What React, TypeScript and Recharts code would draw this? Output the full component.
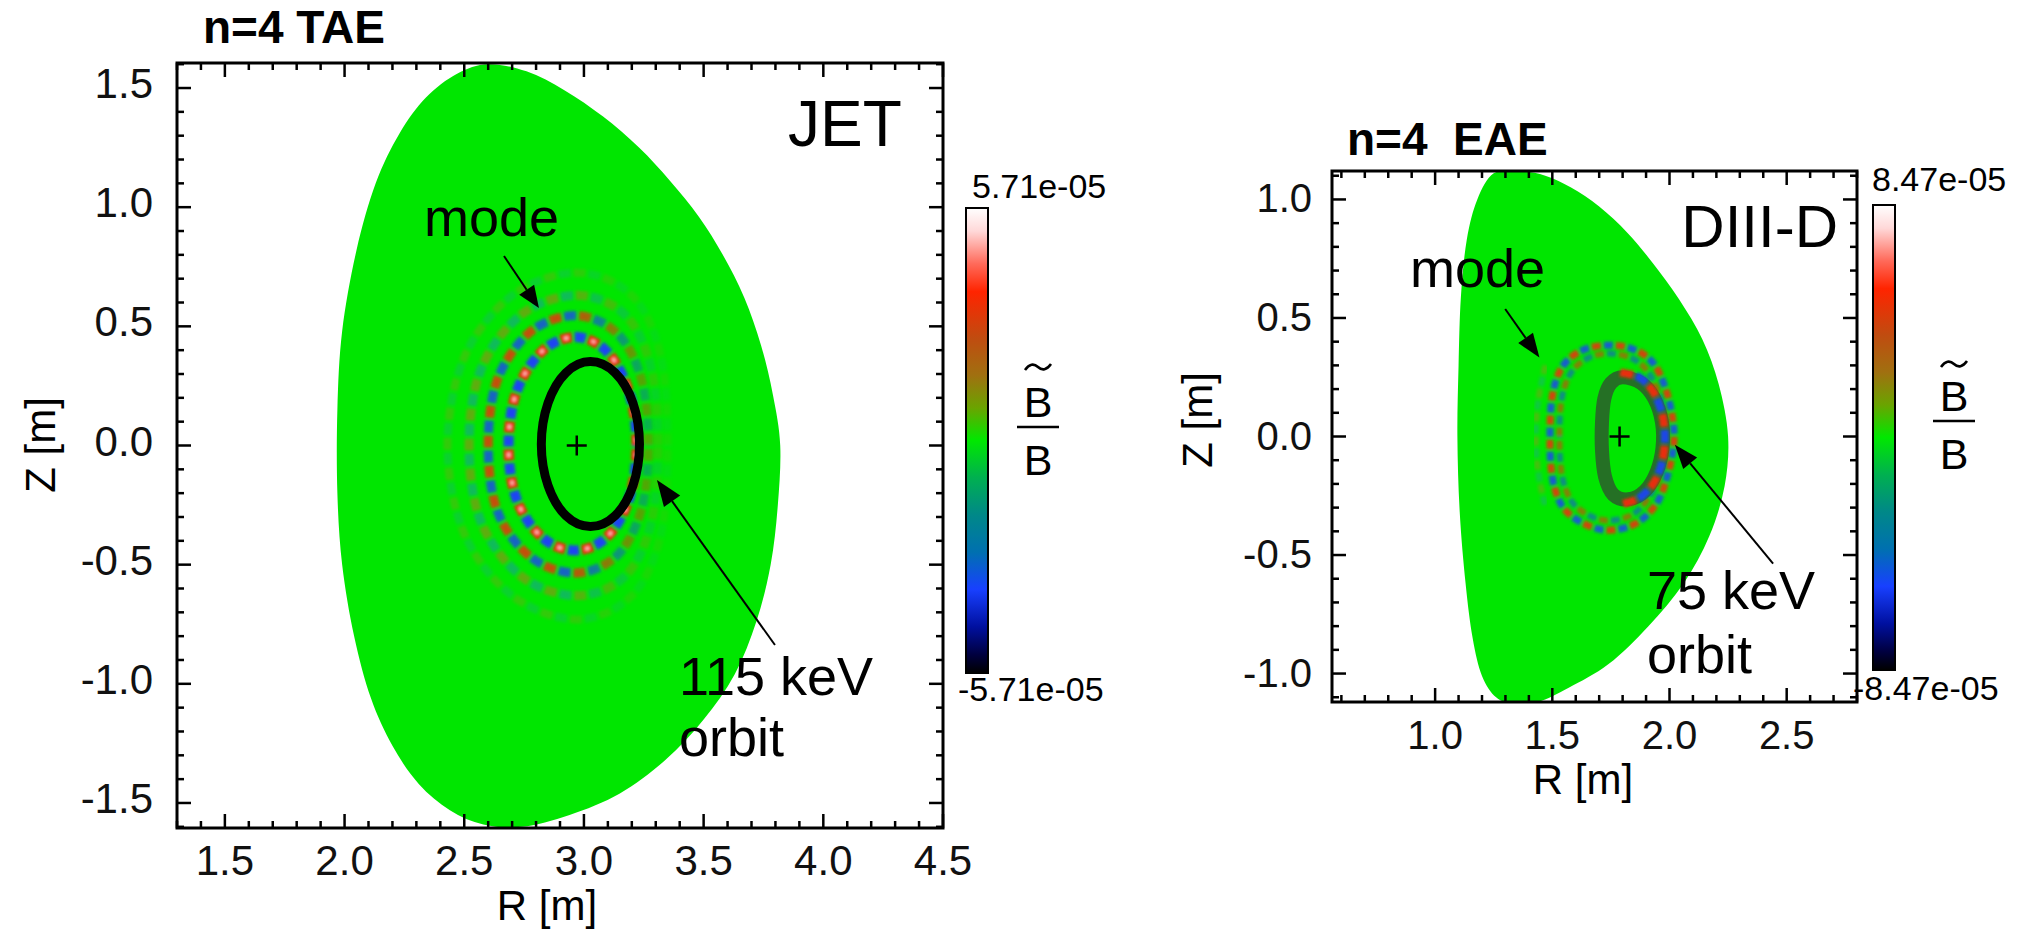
import { Scatter, ScatterChart, XAxis, YAxis } from "recharts";

const FONT = '"Liberation Sans", Arial, Helvetica, sans-serif';

type P = [number, number];
type XY = { x: number; y: number };

// ---------- JET, n=4 TAE (left panel) ----------
const JET_R_LABELS = [1.5, 2.0, 2.5, 3.0, 3.5, 4.0, 4.5];
const JET_Z_LABELS = [-1.5, -1.0, -0.5, 0.0, 0.5, 1.0, 1.5];

const JET_LCFS: P[] = [
  [2.6, 1.6], [2.76, 1.57], [2.92, 1.49], [3.08, 1.38], [3.23, 1.25], [3.36, 1.11],
  [3.48, 0.96], [3.58, 0.8], [3.67, 0.62], [3.74, 0.42], [3.79, 0.21], [3.82, 0.0],
  [3.81, -0.25], [3.78, -0.5], [3.72, -0.74], [3.63, -0.96], [3.5, -1.15], [3.34, -1.32],
  [3.15, -1.46], [2.94, -1.55], [2.74, -1.6], [2.58, -1.59], [2.44, -1.53], [2.31, -1.42],
  [2.2, -1.26], [2.11, -1.06], [2.04, -0.8], [1.99, -0.5], [1.97, -0.2], [1.97, 0.15],
  [1.99, 0.48], [2.05, 0.82], [2.13, 1.1], [2.23, 1.31], [2.34, 1.46], [2.47, 1.56],
];

const JET_ORBIT: P[] = [
  [3.232, 0.005], [3.205, 0.178], [3.13, 0.305], [3.027, 0.352], [2.925, 0.305], [2.85, 0.178],
  [2.822, 0.005], [2.85, -0.168], [2.925, -0.295], [3.027, -0.34], [3.13, -0.295], [3.205, -0.168],
];

const JET_RING_1: P[] = [
  [3.22, 0], [3.19, 0.22], [3.1, 0.39], [2.97, 0.455], [2.83, 0.4], [2.72, 0.23],
  [2.685, 0], [2.72, -0.23], [2.83, -0.39], [2.97, -0.44], [3.1, -0.38], [3.19, -0.22],
];
const JET_RING_2: P[] = [
  [3.27, 0], [3.24, 0.28], [3.14, 0.47], [2.97, 0.545], [2.78, 0.48], [2.64, 0.28],
  [2.6, 0], [2.64, -0.28], [2.78, -0.47], [2.97, -0.535], [3.14, -0.46], [3.24, -0.27],
];
const JET_RING_3: P[] = [
  [3.31, 0], [3.28, 0.33], [3.17, 0.55], [2.97, 0.63], [2.74, 0.55], [2.57, 0.32],
  [2.52, 0], [2.57, -0.32], [2.74, -0.55], [2.97, -0.63], [3.17, -0.55], [3.28, -0.33],
];
const JET_RING_4: P[] = [
  [3.35, 0], [3.32, 0.38], [3.2, 0.63], [2.97, 0.725], [2.7, 0.63], [2.5, 0.37],
  [2.43, 0], [2.5, -0.37], [2.7, -0.63], [2.97, -0.73], [3.2, -0.63], [3.32, -0.38],
];

const JET_AXIS: P[] = [[2.97, 0.0]];
const JET_MODE_ARROW: P[] = [[2.666, 0.795], [2.812, 0.577]];
const JET_ORBIT_ARROW: P[] = [[3.798, -0.837], [3.305, -0.145]];

// ---------- DIII-D, n=4 EAE (right panel) ----------
const D3D_R_LABELS = [1.0, 1.5, 2.0, 2.5];
const D3D_Z_LABELS = [-1.0, -0.5, 0.0, 0.5, 1.0];

const D3D_LCFS: P[] = [
  [1.25, 1.11], [1.36, 1.12], [1.47, 1.1], [1.58, 1.05], [1.7, 0.97], [1.82, 0.86],
  [1.93, 0.73], [2.04, 0.58], [2.14, 0.41], [2.21, 0.22], [2.25, 0.0], [2.235, -0.21],
  [2.17, -0.42], [2.06, -0.62], [1.91, -0.8], [1.74, -0.96], [1.57, -1.06], [1.44, -1.12],
  [1.34, -1.13], [1.26, -1.1], [1.2, -1.01], [1.16, -0.85], [1.13, -0.62], [1.105, -0.32],
  [1.095, 0.0], [1.1, 0.3], [1.11, 0.59], [1.135, 0.83], [1.18, 1.0],
];

const D3D_ORBIT: P[] = [
  [1.8, 0.25], [1.88, 0.225], [1.935, 0.16], [1.968, 0.06], [1.97, -0.05], [1.945, -0.15],
  [1.895, -0.23], [1.825, -0.265], [1.76, -0.245], [1.725, -0.17], [1.712, -0.06], [1.712, 0.06],
  [1.722, 0.16], [1.75, 0.225],
];

const D3D_RING_A: P[] = [
  [1.49, 0], [1.5, 0.17], [1.54, 0.29], [1.62, 0.36], [1.73, 0.385], [1.84, 0.37],
  [1.93, 0.31], [1.99, 0.18], [2.02, 0], [1.99, -0.17], [1.94, -0.29], [1.85, -0.37],
  [1.73, -0.395], [1.62, -0.36], [1.54, -0.29], [1.5, -0.17],
];
const D3D_RING_A2: P[] = [
  [1.53, 0], [1.54, 0.16], [1.58, 0.27], [1.65, 0.33], [1.74, 0.35], [1.84, 0.33],
  [1.91, 0.27], [1.96, 0.16], [1.985, 0], [1.96, -0.15], [1.91, -0.26], [1.84, -0.33],
  [1.74, -0.355], [1.65, -0.33], [1.58, -0.27], [1.54, -0.16],
];
const D3D_RING_B: P[] = [
  [1.79, 0.27], [1.87, 0.25], [1.93, 0.19], [1.97, 0.09], [1.98, -0.02], [1.965, -0.12],
  [1.93, -0.2], [1.87, -0.26], [1.8, -0.285],
];
const D3D_RING_C: P[] = [[1.47, 0.3], [1.44, 0.15], [1.43, 0], [1.44, -0.15], [1.47, -0.3]];

const D3D_AXIS: P[] = [[1.787, 0.0]];
const D3D_MODE_ARROW: P[] = [[1.299, 0.538], [1.445, 0.333]];
const D3D_ORBIT_ARROW: P[] = [[2.442, -0.536], [2.023, -0.035]];

const GREEN = "#00e600";
const RED = "#f42a08";
const BLUE = "#1a44f2";

// tick positions every 0.1 between a and b
function steps(a: number, b: number) {
  const out: number[] = [];
  for (let k = Math.round(a * 10); k <= Math.round(b * 10); k++) out.push(k / 10);
  return out;
}

// Catmull-Rom spline through the scaled points
function smoothPath(pts: XY[], closed: boolean) {
  const n = pts.length;
  if (n < 2) return "";
  const at = (i: number) => (closed ? pts[(i + n) % n] : pts[Math.min(n - 1, Math.max(0, i))]);
  let d = `M${pts[0].x},${pts[0].y}`;
  const segs = closed ? n : n - 1;
  for (let i = 0; i < segs; i++) {
    const p0 = at(i - 1), p1 = at(i), p2 = at(i + 1), p3 = at(i + 2);
    d += ` C${p1.x + (p2.x - p0.x) / 6},${p1.y + (p2.y - p0.y) / 6} ${p2.x - (p3.x - p1.x) / 6},${
      p2.y - (p3.y - p1.y) / 6
    } ${p2.x},${p2.y}`;
  }
  return closed ? d + " Z" : d;
}

const NoMark = () => <g />;

const PlusMark = (p: any) => (
  <g stroke="#000" strokeWidth={2.5}>
    <line x1={p.cx - 10} y1={p.cy} x2={p.cx + 10} y2={p.cy} />
    <line x1={p.cx} y1={p.cy - 10} x2={p.cx} y2={p.cy + 10} />
  </g>
);

type Layer =
  | { kind: "fill"; pts: P[]; color: string }
  | { kind: "stroke"; pts: P[]; color: string; width: number }
  | {
      kind: "ring";
      pts: P[];
      closed: boolean;
      width: number;
      dash: number;
      gap: number;
      colors: [string, string];
      opacity: number;
      core?: boolean;
      fade?: boolean;
    }
  | { kind: "plus"; pts: P[] }
  | { kind: "arrow"; pts: P[]; len: number; half: number };

function lineFor(layer: Layer) {
  switch (layer.kind) {
    case "fill":
      return (p: any) => <path d={smoothPath(p.points, true)} fill={layer.color} stroke="none" />;
    case "stroke":
      return (p: any) => (
        <path d={smoothPath(p.points, true)} fill="none" stroke={layer.color} strokeWidth={layer.width} />
      );
    case "ring":
      return (p: any) => {
        const d = smoothPath(p.points, layer.closed);
        const period = 2 * (layer.dash + layer.gap);
        const arr = `${layer.dash} ${period - layer.dash}`;
        return (
          <g opacity={layer.opacity} mask={layer.fade ? "url(#fadeRight)" : undefined}>
            <g filter="url(#soft)">
              <path d={d} fill="none" stroke={layer.colors[0]} strokeWidth={layer.width} strokeDasharray={arr} />
              <path
                d={d}
                fill="none"
                stroke={layer.colors[1]}
                strokeWidth={layer.width}
                strokeDasharray={arr}
                strokeDashoffset={-(layer.dash + layer.gap)}
              />
              {layer.core && (
                <path
                  d={d}
                  fill="none"
                  stroke="#ffffff"
                  strokeWidth={3}
                  strokeDasharray={`4 ${period - 4}`}
                  strokeDashoffset={-(layer.dash - 4) / 2}
                  opacity={0.75}
                />
              )}
            </g>
          </g>
        );
      };
    case "arrow":
      return (p: any) => {
        const [a, b] = p.points as XY[];
        const dx = b.x - a.x, dy = b.y - a.y;
        const L = Math.hypot(dx, dy) || 1;
        const ux = dx / L, uy = dy / L;
        const bx = b.x - ux * layer.len, by = b.y - uy * layer.len;
        const h = layer.half;
        return (
          <g>
            <line x1={a.x} y1={a.y} x2={bx} y2={by} stroke="#000" strokeWidth={2} />
            <polygon
              points={`${b.x},${b.y} ${bx - uy * h},${by + ux * h} ${bx + uy * h},${by - ux * h}`}
              fill="#000"
            />
          </g>
        );
      };
    default:
      return false;
  }
}

type PanelProps = {
  width: number;
  height: number;
  margin: { top: number; right: number; bottom: number; left: number };
  rDomain: [number, number];
  zDomain: [number, number];
  rTicks: number[];
  zTicks: number[];
  rLabels: number[];
  zLabels: number[];
  fontSize: number;
  xLabelDy: number;
  yLabelDx: number;
  yLabelDy: number;
  layers: Layer[];
};

const isMajor = (labels: number[], v: number) => labels.some((m) => Math.abs(m - v) < 1e-6);

function Panel(props: PanelProps) {
  const { width, height, margin, fontSize } = props;
  // axes take one pixel each, so the plot box starts one pixel past the margins
  const top = margin.top;
  const right = width - margin.right;

  const RTick = (p: any) => {
    const v = p.payload.value as number;
    const major = isMajor(props.rLabels, v);
    const len = major ? 14 : 7;
    return (
      <g>
        <line x1={p.x} y1={p.y} x2={p.x} y2={p.y - len} stroke="#000" strokeWidth={2.5} />
        <line x1={p.x} y1={top} x2={p.x} y2={top + len} stroke="#000" strokeWidth={2.5} />
        {major && (
          <text x={p.x} y={p.y + props.xLabelDy} textAnchor="middle" fontSize={fontSize} fontFamily={FONT} fill="#111">
            {v.toFixed(1)}
          </text>
        )}
      </g>
    );
  };

  const ZTick = (p: any) => {
    const v = p.payload.value as number;
    const major = isMajor(props.zLabels, v);
    const len = major ? 14 : 7;
    return (
      <g>
        <line x1={p.x} y1={p.y} x2={p.x + len} y2={p.y} stroke="#000" strokeWidth={2.5} />
        <line x1={right} y1={p.y} x2={right - len} y2={p.y} stroke="#000" strokeWidth={2.5} />
        {major && (
          <text
            x={p.x - props.yLabelDx}
            y={p.y + props.yLabelDy}
            textAnchor="end"
            fontSize={fontSize}
            fontFamily={FONT}
            fill="#111"
          >
            {v.toFixed(1)}
          </text>
        )}
      </g>
    );
  };

  return (
    <ScatterChart
      width={width}
      height={height}
      margin={{ top: margin.top, right: margin.right, bottom: margin.bottom - 1, left: margin.left - 1 }}
    >
      <XAxis
        type="number"
        dataKey="R"
        domain={props.rDomain}
        allowDataOverflow
        ticks={props.rTicks}
        interval={0}
        height={1}
        tickSize={0}
        tickMargin={0}
        axisLine={false}
        tickLine={false}
        tick={RTick}
      />
      <YAxis
        type="number"
        dataKey="Z"
        domain={props.zDomain}
        allowDataOverflow
        ticks={props.zTicks}
        interval={0}
        width={1}
        tickSize={0}
        tickMargin={0}
        axisLine={false}
        tickLine={false}
        tick={ZTick}
      />
      {props.layers.map((layer, i) => (
        <Scatter
          key={i}
          data={layer.pts.map(([R, Z]) => ({ R, Z }))}
          line={lineFor(layer)}
          lineType="joint"
          shape={layer.kind === "plus" ? PlusMark : NoMark}
          isAnimationActive={false}
        />
      ))}
    </ScatterChart>
  );
}

const JET_LAYERS: Layer[] = [
  { kind: "fill", pts: JET_LCFS, color: GREEN },
  { kind: "ring", pts: JET_RING_4, closed: true, width: 8, dash: 12, gap: 3, colors: ["#c87a2a", "#2a96b8"], opacity: 0.25, fade: true },
  { kind: "ring", pts: JET_RING_3, closed: true, width: 9, dash: 12, gap: 3, colors: ["#d06a20", "#2088c8"], opacity: 0.45, fade: true },
  { kind: "ring", pts: JET_RING_2, closed: true, width: 9, dash: 12, gap: 3, colors: [RED, BLUE], opacity: 0.8, fade: true },
  { kind: "ring", pts: JET_RING_1, closed: true, width: 10, dash: 11, gap: 3, colors: [RED, BLUE], opacity: 1, core: true },
  { kind: "stroke", pts: JET_ORBIT, color: "#000", width: 9 },
  { kind: "plus", pts: JET_AXIS },
  { kind: "arrow", pts: JET_MODE_ARROW, len: 22, half: 9 },
  { kind: "arrow", pts: JET_ORBIT_ARROW, len: 26, half: 10 },
];

const D3D_LAYERS: Layer[] = [
  { kind: "fill", pts: D3D_LCFS, color: GREEN },
  { kind: "ring", pts: D3D_RING_C, closed: false, width: 6, dash: 9, gap: 3, colors: ["#c87a2a", "#2a96b8"], opacity: 0.35 },
  { kind: "ring", pts: D3D_RING_A, closed: true, width: 7, dash: 9, gap: 3, colors: [BLUE, RED], opacity: 0.85 },
  { kind: "ring", pts: D3D_RING_A2, closed: true, width: 6, dash: 9, gap: 3, colors: [RED, BLUE], opacity: 0.55 },
  { kind: "stroke", pts: D3D_ORBIT, color: "#257025", width: 14 },
  { kind: "ring", pts: D3D_RING_B, closed: false, width: 8, dash: 13, gap: 3, colors: [RED, BLUE], opacity: 0.95 },
  { kind: "plus", pts: D3D_AXIS },
  { kind: "arrow", pts: D3D_MODE_ARROW, len: 24, half: 9 },
  { kind: "arrow", pts: D3D_ORBIT_ARROW, len: 24, half: 9 },
];

function Ratio({ cx, bar, tilde }: { cx: number; bar: number; tilde: number }) {
  return (
    <g>
      <path
        d={`M${cx - 13},${tilde + 3} Q${cx - 6.5},${tilde - 6} ${cx},${tilde} T${cx + 13},${tilde - 3}`}
        fill="none"
        stroke="#000"
        strokeWidth={2.6}
      />
      <text x={cx} y={bar - 10} textAnchor="middle" fontSize={43} fontFamily={FONT}>
        B
      </text>
      <line x1={cx - 21} y1={bar} x2={cx + 21} y2={bar} stroke="#000" strokeWidth={2.5} />
      <text x={cx} y={bar + 48} textAnchor="middle" fontSize={43} fontFamily={FONT}>
        B
      </text>
    </g>
  );
}

function Txt(p: { x: number; y: number; size: number; bold?: boolean; anchor?: string; children: string }) {
  return (
    <text
      x={p.x}
      y={p.y}
      fontSize={p.size}
      fontWeight={p.bold ? 700 : 400}
      textAnchor={p.anchor || "start"}
      fontFamily={FONT}
      fill="#000"
      style={{ whiteSpace: "pre" }}
    >
      {p.children}
    </text>
  );
}

export default function App() {
  return (
    <div style={{ position: "absolute", left: 0, top: 0, width: 2022, height: 929, background: "#fff" }}>
      <svg width={0} height={0} style={{ position: "absolute" }}>
        <defs>
          <filter id="soft" x="-10%" y="-10%" width="120%" height="120%">
            <feGaussianBlur stdDeviation={1.4} />
          </filter>
          <linearGradient id="fadeGrad" x1="0" y1="0" x2="1" y2="0">
            <stop offset="0%" stopColor="#fff" />
            <stop offset="50%" stopColor="#fff" />
            <stop offset="100%" stopColor="#444" />
          </linearGradient>
          <mask id="fadeRight" maskContentUnits="objectBoundingBox">
            <rect x={-0.1} y={-0.1} width={1.2} height={1.2} fill="url(#fadeGrad)" />
          </mask>
        </defs>
      </svg>

      <div style={{ position: "absolute", left: 0, top: 0 }}>
        <Panel
          width={1000}
          height={929}
          margin={{ top: 63, right: 57, bottom: 101, left: 177 }}
          rDomain={[1.3, 4.5]}
          zDomain={[-1.605, 1.605]}
          rTicks={steps(1.3, 4.5)}
          zTicks={steps(-1.6, 1.6)}
          rLabels={JET_R_LABELS}
          zLabels={JET_Z_LABELS}
          fontSize={42}
          xLabelDy={47}
          yLabelDx={24}
          yLabelDy={10}
          layers={JET_LAYERS}
        />
      </div>

      <div style={{ position: "absolute", left: 1050, top: 0 }}>
        <Panel
          width={972}
          height={929}
          margin={{ top: 171, right: 165, bottom: 227, left: 282 }}
          rDomain={[0.56, 2.8]}
          zDomain={[-1.12, 1.12]}
          rTicks={steps(0.6, 2.8)}
          zTicks={steps(-1.1, 1.1)}
          rLabels={D3D_R_LABELS}
          zLabels={D3D_Z_LABELS}
          fontSize={40}
          xLabelDy={47}
          yLabelDx={20}
          yLabelDy={13}
          layers={D3D_LAYERS}
        />
      </div>

      <svg width={2022} height={929} style={{ position: "absolute", left: 0, top: 0, pointerEvents: "none" }}>
        <defs>
          <linearGradient id="cbar" x1="0" y1="0" x2="0" y2="1">
            <stop offset="0%" stopColor="#ffffff" />
            <stop offset="5%" stopColor="#ffd8d8" />
            <stop offset="12%" stopColor="#ff6a5a" />
            <stop offset="18%" stopColor="#ff2400" />
            <stop offset="28%" stopColor="#c04c10" />
            <stop offset="36%" stopColor="#a07010" />
            <stop offset="43%" stopColor="#6aa400" />
            <stop offset="50%" stopColor="#00e800" />
            <stop offset="58%" stopColor="#00b050" />
            <stop offset="66%" stopColor="#008888" />
            <stop offset="74%" stopColor="#0070b0" />
            <stop offset="82%" stopColor="#1840ff" />
            <stop offset="90%" stopColor="#0010a0" />
            <stop offset="96%" stopColor="#000040" />
            <stop offset="100%" stopColor="#000000" />
          </linearGradient>
        </defs>

        {/* plot frames */}
        <rect x={177} y={63} width={766} height={765} fill="none" stroke="#000" strokeWidth={3} />
        <rect x={1332} y={171} width={525} height={531} fill="none" stroke="#000" strokeWidth={3} />

        {/* JET panel text */}
        <Txt x={203} y={43} size={46} bold>n=4 TAE</Txt>
        <Txt x={788} y={146} size={64}>JET</Txt>
        <Txt x={424} y={236} size={54}>mode</Txt>
        <Txt x={679} y={695} size={54}>115 keV</Txt>
        <Txt x={679} y={756} size={54}>orbit</Txt>
        <text transform="translate(40,445) rotate(-90)" x={0} y={15} textAnchor="middle" fontSize={42} fontFamily={FONT}>
          Z [m]
        </text>
        <Txt x={547} y={920} size={42} anchor="middle">R [m]</Txt>

        <rect x={966} y={208} width={22} height={465} fill="url(#cbar)" stroke="#000" strokeWidth={2} />
        <Txt x={972} y={198} size={34}>5.71e-05</Txt>
        <Txt x={958} y={701} size={34}>-5.71e-05</Txt>
        <Ratio cx={1038} bar={427} tilde={367} />

        {/* DIII-D panel text */}
        <Txt x={1347} y={155} size={46} bold>{"n=4  EAE"}</Txt>
        <Txt x={1838} y={247} size={60} anchor="end">DIII-D</Txt>
        <Txt x={1410} y={287} size={54}>mode</Txt>
        <Txt x={1647} y={609} size={54}>75 keV</Txt>
        <Txt x={1647} y={673} size={54}>orbit</Txt>
        <text transform="translate(1197,420) rotate(-90)" x={0} y={15} textAnchor="middle" fontSize={42} fontFamily={FONT}>
          Z [m]
        </text>
        <Txt x={1583} y={794} size={42} anchor="middle">R [m]</Txt>

        <rect x={1873} y={205} width={22} height={465} fill="url(#cbar)" stroke="#000" strokeWidth={2} />
        <Txt x={1872} y={191} size={34}>8.47e-05</Txt>
        <Txt x={1853} y={700} size={34}>-8.47e-05</Txt>
        <Ratio cx={1954} bar={421} tilde={364} />
      </svg>
    </div>
  );
}
